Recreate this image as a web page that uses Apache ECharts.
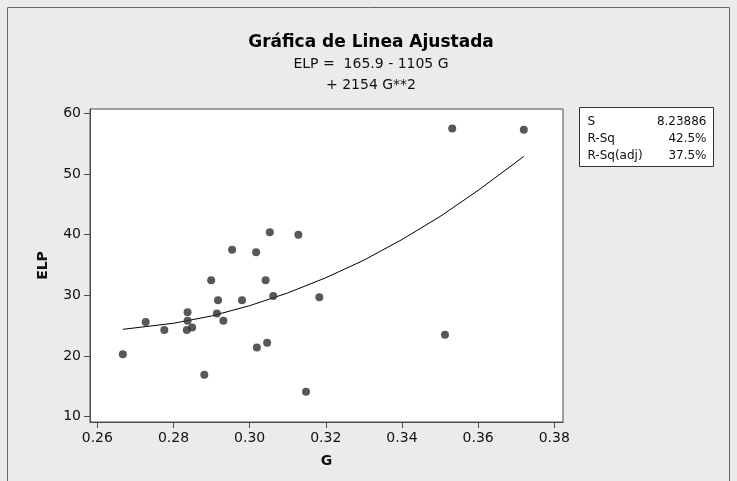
<!DOCTYPE html>
<html>
<head>
<meta charset="utf-8">
<script src="https://cdn.jsdelivr.net/npm/echarts@6/dist/echarts.min.js"></script>
<style>
html,body{margin:0;padding:0;background:#ebebeb;}
#c{width:737px;height:481px;}
</style>
</head>
<body>
<div id="c"></div>
<script>
// Observed data (G, ELP)
var gValues = [0.2667,0.2727,0.2776,0.2837,0.2837,0.2835,0.2849,0.2881,0.2899,0.2917,0.2914,0.2931,0.2954,0.2980,0.3017,0.3042,0.3062,0.3053,0.3128,0.3019,0.3046,0.3148,0.3183,0.3532,0.3720,0.3513];
var elpValues = [20.3,25.6,24.3,27.2,25.8,24.3,24.7,16.9,32.5,29.2,27.0,25.8,37.5,29.2,37.1,32.5,29.9,40.4,40.0,21.4,22.2,14.1,29.7,57.5,57.3,23.5];
// Fitted line
var fitG = [0.2667,0.28,0.29,0.30,0.31,0.32,0.33,0.34,0.35,0.36,0.372];
var fitELP = [24.4,25.4,26.6,28.3,30.4,32.9,35.8,39.2,43.0,47.3,52.9];
// Tick labels
var xTicks = [0.26,0.28,0.30,0.32,0.34,0.36,0.38];
var yTicks = [10,20,30,40,50,60];
// Stats
var statNames = ['S','R-Sq','R-Sq(adj)'];
var statValues = ['8.23886','42.5%','37.5%'];
var titleText = 'Gráfica de Linea Ajustada';
var eqLine1 = 'ELP =  165.9 - 1105 G';
var eqLine2 = '+ 2154 G**2';

var pts = gValues.map(function(g,i){return [g, elpValues[i]];});
var fit = fitG.map(function(g,i){return [g, fitELP[i]];});

var font = 'Tahoma, "DejaVu Sans", "Liberation Sans", Arial, sans-serif';
var axisColor = '#4a4a4a';

var statChildren = [{type:'rect', shape:{x:0,y:0,width:134,height:59}, style:{fill:'#fff', stroke:'#333', lineWidth:1}}];
statNames.forEach(function(n,i){
  statChildren.push({type:'text', x:8, y:14.5+i*16.7, style:{text:n, fill:'#111', font:'12px '+font, textVerticalAlign:'middle', textAlign:'left'}});
  statChildren.push({type:'text', x:127, y:14.5+i*16.7, style:{text:statValues[i], fill:'#111', font:'12px '+font, textVerticalAlign:'middle', textAlign:'right'}});
});

var chart = echarts.init(document.getElementById('c'), null, {renderer:'canvas'});
chart.setOption({
  backgroundColor:'#ebebeb',
  animation:false,
  grid:{left:90, top:109, width:473, height:313, show:true, backgroundColor:'#fff', borderColor:axisColor, borderWidth:1},
  xAxis:{
    type:'value', min:0.25808, max:0.38229,
    name:'G', nameLocation:'middle', nameGap:32,
    nameTextStyle:{fontFamily:font, fontWeight:'bold', fontSize:14, color:'#111'},
    axisLine:{show:true, lineStyle:{color:axisColor}},
    axisTick:{show:true, length:6, customValues:xTicks, lineStyle:{color:axisColor}},
    axisLabel:{customValues:xTicks, formatter:function(v){return v.toFixed(2);}, fontFamily:font, fontSize:14, color:'#111', margin:9},
    splitLine:{show:false}
  },
  yAxis:{
    type:'value', min:9.126, max:60.72,
    name:'ELP', nameLocation:'middle', nameGap:40, nameRotate:90,
    nameTextStyle:{fontFamily:font, fontWeight:'bold', fontSize:14, color:'#111'},
    axisLine:{show:true, lineStyle:{color:axisColor}},
    axisTick:{show:true, length:6, customValues:yTicks, lineStyle:{color:axisColor}},
    axisLabel:{customValues:yTicks, fontFamily:font, fontSize:14, color:'#111', margin:9},
    splitLine:{show:false}
  },
  series:[
    {type:'line', data:fit, showSymbol:false, symbol:'none', smooth:false, lineStyle:{color:'#000', width:1}, z:2},
    {type:'scatter', data:pts, symbol:'circle', symbolSize:8, itemStyle:{color:'#2e2e2e'}, z:3}
  ],
  graphic:[
    {type:'rect', shape:{x:7.5,y:7.5,width:722,height:480}, style:{fill:null, stroke:'#666', lineWidth:1}, silent:true},
    {type:'text', x:371, y:43, style:{text:titleText, fill:'#000', font:'bold 17px '+font, textAlign:'center', textVerticalAlign:'middle'}},
    {type:'text', x:371, y:64, style:{text:eqLine1, fill:'#111', font:'14px '+font, textAlign:'center', textVerticalAlign:'middle'}},
    {type:'text', x:371, y:85, style:{text:eqLine2, fill:'#111', font:'14px '+font, textAlign:'center', textVerticalAlign:'middle'}},
    {type:'group', x:579.5, y:107.5, children:statChildren}
  ]
});
</script>
</body>
</html>
